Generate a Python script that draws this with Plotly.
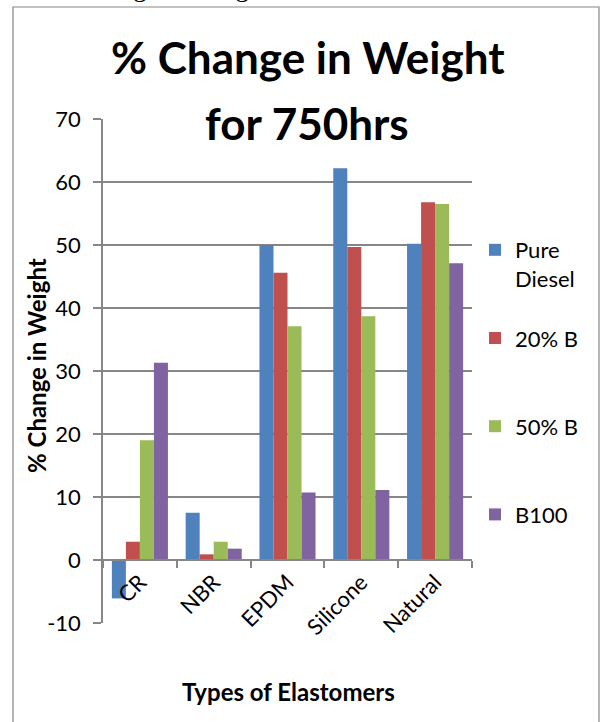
import plotly.graph_objects as go

# Elastomer types on the category axis
elastomers = ["CR", "NBR", "EPDM", "Silicone", "Natural"]

# % change in weight after 750 hrs, one list per fuel blend
pure_diesel = [-6.1, 7.5, 50.0, 62.2, 50.2]
b20 = [2.9, 0.9, 45.6, 49.7, 56.8]
b50 = [19.0, 2.9, 37.1, 38.7, 56.5]
b100 = [31.3, 1.8, 10.7, 11.1, 47.1]

series_names = ["Pure<br>Diesel", "20% B<br> ", "50% B<br> ", "B100"]
series_colors = ["#4F81BD", "#C0504D", "#9BBB59", "#8064A2"]
y_ticks = [-10, 0, 10, 20, 30, 40, 50, 60, 70]
y_tick_labels = ["-10", "0", "10", "20", "30", "40", "50", "60", "70"]

W, H = 603, 722
L, R, T, B = 103, 131, 119, 99
PW, PH = W - L - R, H - T - B
Y_MIN, Y_MAX = -10, 70


def px(x):
    return (x - L) / PW


def py(y):
    return (H - B - y) / PH


FONT = "Lato"
GRID = "#868686"

fig = go.Figure()
for name, vals, col in zip(series_names, [pure_diesel, b20, b50, b100], series_colors):
    fig.add_trace(go.Bar(
        x=elastomers, y=vals, name=name, marker_color=col,
        marker_line_width=0, legendgroup=name,
    ))

fig.update_layout(
    width=W, height=H,
    margin=dict(l=L, r=R, t=T, b=B),
    paper_bgcolor="white", plot_bgcolor="white",
    barmode="group", bargap=0.24, bargroupgap=0,
    font=dict(family=FONT, color="#000000"),
    legend=dict(
        x=px(475), y=py(229), xanchor="left", yanchor="top",
        font=dict(size=22, family=FONT), valign="top",
        tracegroupgap=28, bgcolor="rgba(0,0,0,0)",
    ),
    xaxis=dict(
        type="category", anchor="free",
        position=(0 - Y_MIN) / (Y_MAX - Y_MIN),
        showline=True, linecolor=GRID, linewidth=1.5,
        ticks="outside", tickson="boundaries", ticklen=7, tickcolor=GRID,
        tickwidth=1.5, tickangle=-45, showgrid=False,
        tickfont=dict(size=22, family=FONT),
    ),
    yaxis=dict(
        range=[Y_MIN, Y_MAX], tickvals=y_ticks, ticktext=y_tick_labels,
        showline=True, linecolor=GRID, linewidth=1.5,
        ticks="outside", ticklen=8, tickcolor=GRID, tickwidth=1.5,
        showgrid=True, gridcolor=GRID, gridwidth=1.5, zeroline=False,
        tickfont=dict(size=22, family=FONT), ticklabelstandoff=8,
    ),
)

# chart frame
fig.add_shape(type="rect", xref="paper", yref="paper",
              x0=px(13), x1=px(599), y0=py(760), y1=py(7),
              line=dict(color=GRID, width=1.2), layer="below")

# chart title (two lines)
fig.add_annotation(text="<b>% Change in Weight</b>", xref="paper", yref="paper",
                   x=px(308), y=py(56.5), xanchor="center", yanchor="middle",
                   showarrow=False, font=dict(size=44, family=FONT))
fig.add_annotation(text="<b>for 750hrs</b>", xref="paper", yref="paper",
                   x=px(307), y=py(123), xanchor="center", yanchor="middle",
                   showarrow=False, font=dict(size=44, family=FONT))

# axis titles
fig.add_annotation(text="<b>% Change in Weight</b>", xref="paper", yref="paper",
                   x=px(36), y=py(366), xanchor="center", yanchor="middle",
                   textangle=-90, showarrow=False, font=dict(size=24, family=FONT))
fig.add_annotation(text="<b>Types of Elastomers</b>", xref="paper", yref="paper",
                   x=px(288), y=py(691), xanchor="center", yanchor="middle",
                   showarrow=False, font=dict(size=24, family=FONT))

# caption line above the chart frame
fig.add_annotation(text="% Change in Weight", xref="paper", yref="paper",
                   x=px(45), y=py(-13), xanchor="left", yanchor="middle",
                   showarrow=False,
                   font=dict(size=27, family="Liberation Serif"))

fig.write_html("out.html")
